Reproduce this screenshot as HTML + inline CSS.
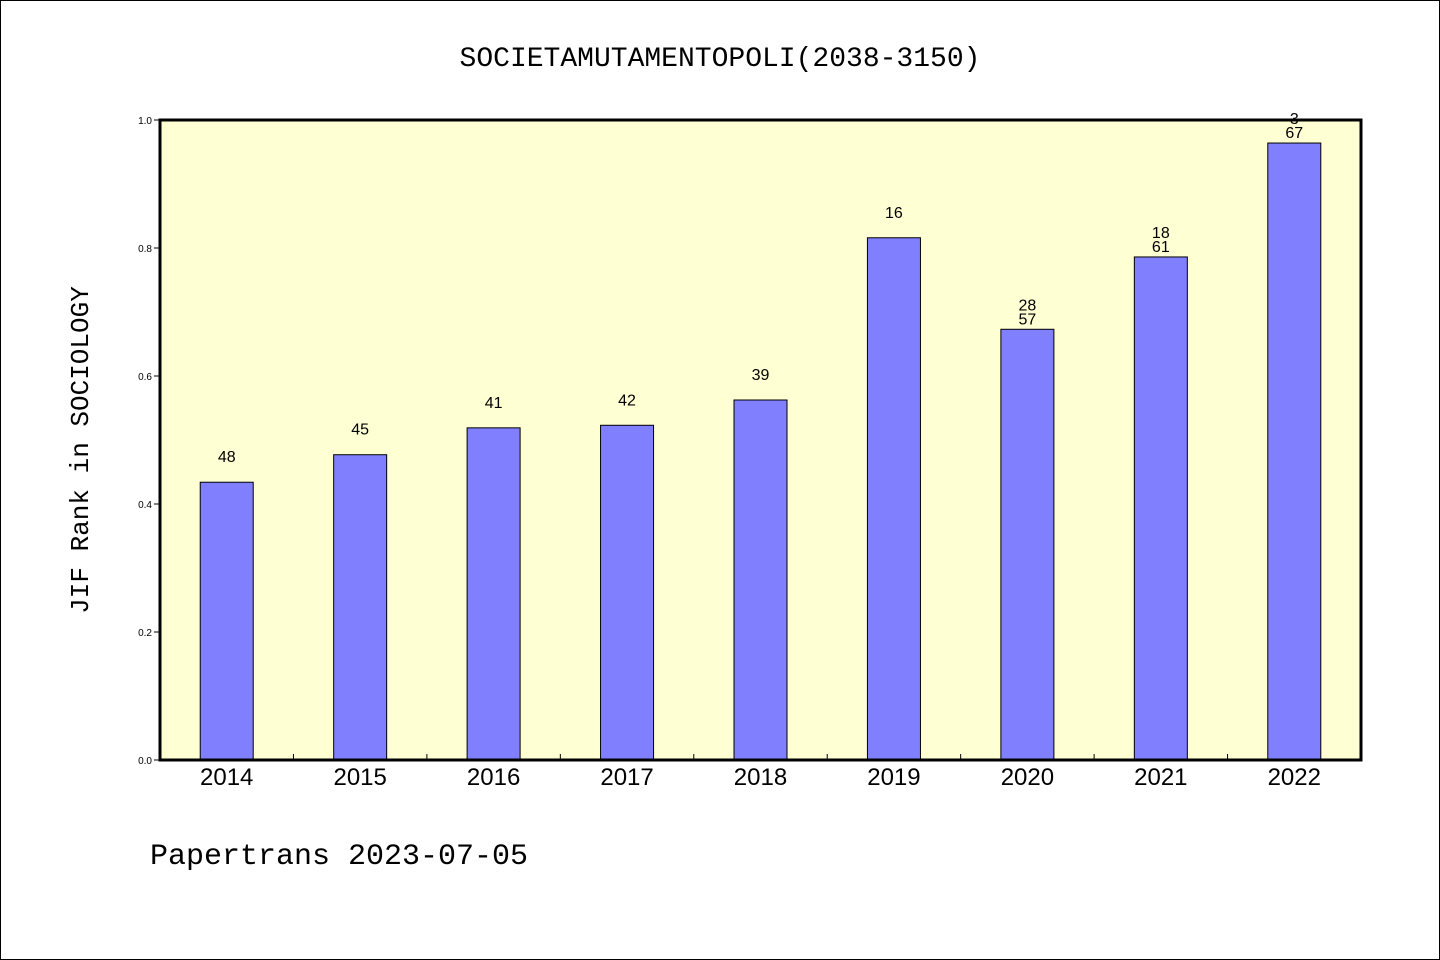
<!DOCTYPE html>
<html><head><meta charset="utf-8"><style>
body{margin:0;background:#fff;}
svg{display:block;font-family:"Liberation Sans","Noto Sans CJK SC",sans-serif;}
</style></head><body>
<svg id="c" width="1440" height="960" xmlns="http://www.w3.org/2000/svg">
<rect x="0.5" y="0.5" width="1439" height="959" fill="#fff" stroke="#000"/>
<text x="720" y="66" text-anchor="middle" font-size="28" font-family="'Liberation Mono','Noto Sans CJK SC',monospace">SOCIETAMUTAMENTOPOLI(2038-3150)</text>
<rect x="160" y="120" width="1201" height="640" fill="#ffffd4"/>
<g id="bars"></g>
<g id="ticks"></g>
<rect x="160" y="120" width="1201" height="640" fill="none" stroke="#000" stroke-width="3"/>
<text transform="translate(88,450) rotate(-90)" text-anchor="middle" font-size="26" font-family="'Liberation Mono',monospace">JIF Rank in SOCIOLOGY</text>
<text x="150" y="864" font-size="30" font-family="'Liberation Mono',monospace">Papertrans 2023-07-05</text>
</svg>
<script>
const categories=["2014","2015","2016","2017","2018","2019","2020","2021","2022"];
const values=[0.434,0.477,0.519,0.523,0.5625,0.816,0.673,0.786,0.964];
const ranks=["48","45","41","42","39","16","28","18","3"];
const totals=["","","","","","","57","61","67"];
const yTicks=[0,0.2,0.4,0.6,0.8,1.0];
const NS="http://www.w3.org/2000/svg";
const X0=160,X1=1361,Y0=760,Y1=120;
const bw=(X1-X0)/categories.length;
const xs=i=>X0+bw*(i+0.5);
const ys=v=>Y0-(v)*(Y0-Y1);
function mk(t,a,p){const e=document.createElementNS(NS,t);for(const k in a)e.setAttribute(k,a[k]);p.appendChild(e);return e;}
const gb=document.getElementById('bars'),gt=document.getElementById('ticks');
categories.forEach((c,i)=>{
 const cx=xs(i),y=ys(values[i]);
 const r=mk('rect',{x:cx-26.5,y:y,width:53,height:Y0-y,fill:'#8080ff',stroke:'#000','stroke-width':1},gb);
 
 
 const l=mk('text',{x:cx,y:totals[i]?y-20:y-20,'text-anchor':'middle','font-size':16},gb);
 l.textContent=ranks[i];
 
 
 if(totals[i]){
  l.setAttribute('y',y-5-14);
  const l2=mk('text',{x:cx,y:y-5,'text-anchor':'middle','font-size':16},gb);
  l2.textContent=totals[i];
  
  
 }
 const xl=mk('text',{x:cx,y:785,'text-anchor':'middle','font-size':24},gt);
 xl.textContent=c;
 
 
 if(i>0){const tk=mk('line',{x1:X0+bw*i,x2:X0+bw*i,y1:Y0,y2:Y0-6,stroke:'#000'},gt);
 
 }
});
yTicks.forEach(v=>{
 const y=ys(v);
 const tk=mk('line',{x1:X0-6,x2:X0,y1:y,y2:y,stroke:'#000'},gt);
 
 
 const t=mk('text',{x:152,y:y+4,'text-anchor':'end','font-size':10},gt);
 t.textContent=v.toFixed(1);
 
 
});
</script>
</body></html>
